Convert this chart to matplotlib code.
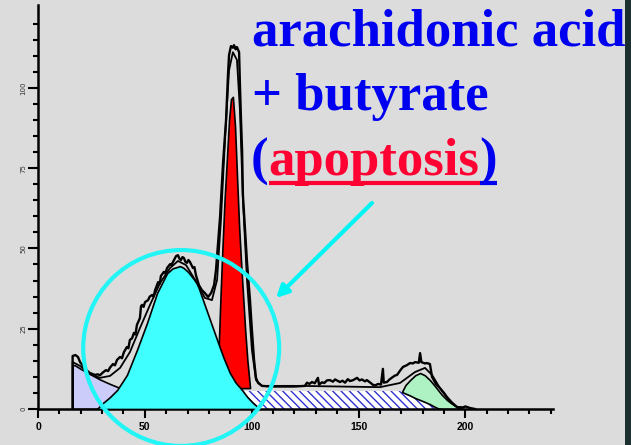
import matplotlib
matplotlib.use("Agg")
import matplotlib.pyplot as plt
from matplotlib.patches import Ellipse, Rectangle
from matplotlib.lines import Line2D

# ---------------- data (DNA content channel vs. cell count) ----------------
x_ticks = [0, 50, 100, 150, 200]
x_tick_labels = ["0", "50", "100", "150", "200"]
y_ticks = [0, 25, 50, 75, 100]
y_tick_labels = ["0", "25", "50", "75", "100"]

# debris component (lavender)
debris_ch = [16.2, 16.2, 17.3, 19.7, 24.3, 29.0, 33.7, 37.4, 43.0, 47.7, 55.0, 61.8, 70.0, 75.8, 85.0]
debris_cnt = [0, 13.7, 13.6, 12.6, 10.9, 9.2, 7.8, 6.8, 5.2, 4.0, 3.0, 2.2, 1.4, 1.0, 0]

# S-phase component (hatched)
sphase_ch = [86.0, 96.0, 169.4, 175.5, 182.0, 186.7]
sphase_cnt = [0, 5.6, 5.6, 3.7, 1.9, 0]

# sub-G1 / apoptotic peak (red), stacked on the S-phase level
red_floor = 6.5
red_ch = [84.2, 84.6, 85.4, 86.3, 87.3, 88.4, 89.4, 90.3, 91.2, 92.2, 93.1, 94.1, 95.0, 96.0, 96.9, 98.0, 99.2]
red_cnt = [6.5, 20, 35, 50, 65, 78, 90, 96.5, 97.2, 88, 73, 57, 46, 35, 25, 15, 6.8]

# G1 peak (cyan)
g1_ch = [27.6, 30.4, 33.5, 37.0, 41.6, 46.3, 51.0, 55.7, 60.4, 63.0, 65.0, 66.4, 68.0, 70.2, 74.4,
         77.2, 80.5, 83.8, 86.8, 89.8, 92.5, 95.5, 98.0, 100.6, 103.9]
g1_cnt = [0, 1.9, 3.6, 5.9, 10.6, 18.4, 26.8, 36.1, 42.3, 43.8, 44.2, 44.5, 44.0, 42.7, 39.2,
          33.9, 27.7, 21.5, 16.0, 11.2, 8.2, 5.9, 3.7, 1.9, 0]

# G2/M peak (green), stacked on the S-phase slope
g2_ch = [170.3, 172.0, 174.1, 176.5, 178.8, 181.0, 183.4, 185.3, 187.2, 189.0, 191.4, 194.0, 196.1, 198.9]
g2_top = [5.3, 7.5, 9.0, 10.5, 11.2, 10.5, 9.0, 7.5, 5.9, 4.4, 2.8, 1.5, 0.6, 0]
g2_low = [5.3, 4.8, 4.2, 3.4, 2.8, 2.2, 1.5, 0.8, 0.2, 0, 0, 0, 0, 0]

# measured histogram
hist_ch = [16.2, 16.2, 17.5, 18.7, 19.7, 21.0, 22.0, 23.2, 24.3, 25.5, 26.7, 28.0, 29.0, 30.4, 31.8,
           32.8, 33.7, 35.1, 36.0, 37.0, 38.4, 39.3, 40.2, 41.6, 42.3, 43.0, 44.0, 44.9, 45.6, 46.3,
           47.7, 48.2, 48.7, 49.4, 50.1, 51.5, 52.3, 53.4, 54.1, 54.8, 56.2, 57.0, 57.5, 58.9, 59.6,
           60.4, 61.8, 62.4, 63.2, 64.0, 64.6, 65.5, 66.2, 66.9, 67.6, 68.3, 69.0, 69.7, 70.4, 71.1,
           72.5, 73.2, 73.9, 75.3, 76.7, 78.1, 79.6, 81.0, 82.4, 83.3, 84.2, 85.2, 86.6, 88.0, 88.9,
           89.4, 90.3, 91.2, 91.7, 92.5, 93.1, 94.1, 94.5, 95.0, 95.5, 95.9, 96.9, 97.8, 99.2, 100.1,
           101.1, 102.0, 103.0, 104.8, 108.6, 115.0, 120.0, 124.9, 125.9, 127.0, 128.2, 129.5, 131.0,
           131.5, 132.9, 134.0, 135.2, 136.6, 138.0, 139.0, 141.3, 142.5, 143.7, 145.0, 146.0, 147.5,
           149.3, 150.5, 151.6, 153.0, 153.9, 155.5, 156.8, 158.0, 159.1, 160.5, 161.4, 161.8, 163.3,
           164.5, 165.7, 167.0, 168.0, 169.5, 170.8, 172.5, 174.1, 175.5, 176.4, 178.2, 178.8, 179.4,
           181.0, 182.0, 183.4, 184.4, 186.2, 188.1, 190.0, 191.4, 193.7, 196.1, 198.9, 200.0, 202.2,
           204.5]
hist_cnt = [0, 16.5, 16.8, 16.2, 14.6, 13.5, 12.8, 11.8, 11.2, 10.9, 10.6, 10.8, 10.5, 11.4, 12.1,
            11.8, 12.9, 14.0, 13.6, 15.3, 16.2, 15.8, 17.7, 19.3, 18.9, 21.5, 22.0, 23.7, 23.2, 26.2,
            28.3, 32.0, 32.4, 31.8, 33.3, 33.9, 35.0, 35.5, 35.0, 37.0, 39.5, 39.0, 41.4, 42.7, 42.2,
            43.9, 45.1, 44.8, 45.8, 46.8, 47.6, 47.9, 46.8, 46.4, 47.3, 47.0, 45.8, 45.5, 46.4, 45.8,
            43.9, 44.2, 41.7, 38.6, 37.0, 36.1, 34.9, 36.1, 38.6, 43.3, 51.1, 59.8, 76.6, 90.0, 104.0,
            110.2, 113.0, 112.5, 113.3, 112.0, 112.7, 111.1, 100.9, 90.0, 80.6, 66.6, 55.7, 45.8, 33.9, 24.6,
            15.3, 9.7, 8.1, 7.2, 7.0, 7.0, 7.0, 7.2, 8.2, 7.8, 8.4, 8.0, 9.7,
            7.6, 8.3, 8.1, 8.9, 9.0, 8.5, 9.2, 8.4, 8.8, 8.2, 9.3, 8.7, 9.0,
            9.7, 8.9, 9.2, 8.6, 9.0, 8.2, 7.5, 7.4, 7.8, 7.6, 12.5, 8.2, 8.4,
            9.2, 9.8, 10.4, 10.6, 12.0, 13.1, 13.6, 14.3, 14.2, 14.6, 14.4, 17.4, 14.6,
            14.2, 14.3, 14.0, 10.0, 7.8, 6.5, 5.0, 3.7, 2.0, 0.6, 0.5, 0.8, 0.3,
            0]

# model fit envelope
fit_ch = [16.2, 16.2, 19.7, 24.3, 29.0, 33.7, 38.4, 43.0, 47.7, 52.4, 57.1, 61.8, 65.5, 69.3, 73.5,
          78.1, 81.4, 83.8, 85.6, 87.5, 89.4, 91.2, 93.1, 94.5, 95.9, 97.8, 100.1, 102.0, 104.8,
          122.6, 160.0, 169.4, 176.4, 181.1, 184.4, 188.1, 192.8, 197.5]
fit_cnt = [0, 14.6, 13.4, 10.9, 9.7, 10.3, 12.8, 17.7, 25.2, 32.4, 39.2, 43.9, 46.1, 44.8, 40.2,
           34.6, 33.9, 40.2, 58.8, 83.7, 105.5, 111.1, 108.7, 93.1, 65.1, 40.2, 18.4, 9.0, 7.2,
           7.2, 6.8, 8.1, 11.5, 12.8, 10.6, 6.5, 2.2, 0]

# ---------------- figure ----------------
W, H = 631, 445
BG = "#DCDCDC"
fig = plt.figure(figsize=(W / 100, H / 100), dpi=100, facecolor=BG)


def fx(px):
    return px / W


def fy(py):
    return 1 - py / H


ax = fig.add_axes([fx(38), 36 / H, 515 / W, 404 / H])
ax.set_facecolor("none")
ax.set_xlim(0, 241)
ax.set_ylim(0, 125.8)

for side in ("top", "right"):
    ax.spines[side].set_visible(False)
for side in ("left", "bottom"):
    ax.spines[side].set_linewidth(1.8)
    ax.spines[side].set_color("black")

ax.set_xticks(x_ticks)
ax.set_xticklabels(x_tick_labels)
ax.set_xticks(range(0, 241, 10), minor=True)
ax.set_yticks(y_ticks)
ax.set_yticklabels(y_tick_labels, rotation=90, va="center")
ax.set_yticks(range(0, 121, 5), minor=True)
ax.tick_params(axis="x", which="major", length=6.5, width=1.5, pad=3,
               labelsize=7.5, labelcolor="black")
ax.tick_params(axis="x", which="minor", length=3.4, width=1.5)
ax.tick_params(axis="y", which="major", length=7, width=1.5, pad=1.5,
               labelsize=5, labelcolor="#333333")
ax.tick_params(axis="y", which="minor", length=3.6, width=1.5)
for lbl in ax.get_xticklabels():
    lbl.set_fontfamily("Liberation Sans")
    lbl.set_fontweight("bold")

# components
ax.fill_between(debris_ch, 0, debris_cnt, facecolor="#CCCCFA", edgecolor="black", lw=1.2, zorder=1)
ax.fill_between(sphase_ch, 0, sphase_cnt, facecolor="white", edgecolor="#3030D0",
                hatch="\\\\\\\\", lw=0, zorder=1)
ax.fill_between(red_ch, red_floor, red_cnt, facecolor="#FF0000", edgecolor="black", lw=1.2, zorder=2)
ax.fill_between(g2_ch, g2_low, g2_top, facecolor="#AEF2C4", edgecolor="black", lw=1.2, zorder=2)
ax.fill_between(g1_ch, 0, g1_cnt, facecolor="#40FFFF", edgecolor="black", lw=1.2, zorder=3)

# histogram and fit
ax.plot(fit_ch, fit_cnt, color="black", lw=1.3, zorder=4)
ax.plot(hist_ch, hist_cnt, color="black", lw=1.7, zorder=4, drawstyle="default")

# highlight ring
ax.add_patch(Ellipse((67.0, 19.0), 91.7, 61.0, fill=False, ec="#22F5F5", lw=3.0,
                     clip_on=False, zorder=6))

# arrow pointing at the ring
ax.annotate("", xy=(276, H - 298), xycoords="figure pixels",
            xytext=(372, H - 203), textcoords="figure pixels",
            arrowprops=dict(arrowstyle="-|>", color="#00F5F5", lw=3.0,
                            mutation_scale=18, shrinkA=0, shrinkB=0))

# caption
font = dict(fontfamily="Liberation Serif", fontweight="bold", fontsize=38, va="baseline", ha="left")
blue = "#0000F0"
red = "#FF0033"
fig.text(fx(252), fy(45), "arachidonic acid", color=blue, **font)
fig.text(fx(252), fy(110), "+ butyrate", color=blue, **font)
p_open = fig.text(fx(251), fy(175), "(", color=blue, **font)

renderer = fig.canvas.get_renderer()
bb_open = p_open.get_window_extent(renderer)
word = fig.text(bb_open.x1 / W, fy(175), "apoptosis", color=red, **font)
bb_word = word.get_window_extent(renderer)
p_close = fig.text(bb_word.x1 / W, fy(175), ")", color=blue, **font)
bb_close = p_close.get_window_extent(renderer)

uy = fy(183)
fig.add_artist(Line2D([bb_word.x0 / W, bb_word.x1 / W], [uy, uy], color=red, lw=3.0,
                      solid_capstyle="butt"))
fig.add_artist(Line2D([bb_word.x1 / W, bb_close.x1 / W], [uy, uy], color=blue, lw=3.0,
                      solid_capstyle="butt"))

# dark border strip on the right
fig.add_artist(Rectangle((fx(625), 0), 6 / W, 1, transform=fig.transFigure,
                         facecolor="#1C3030", edgecolor="none"))

fig.savefig("out.png", dpi=100, facecolor=BG)
